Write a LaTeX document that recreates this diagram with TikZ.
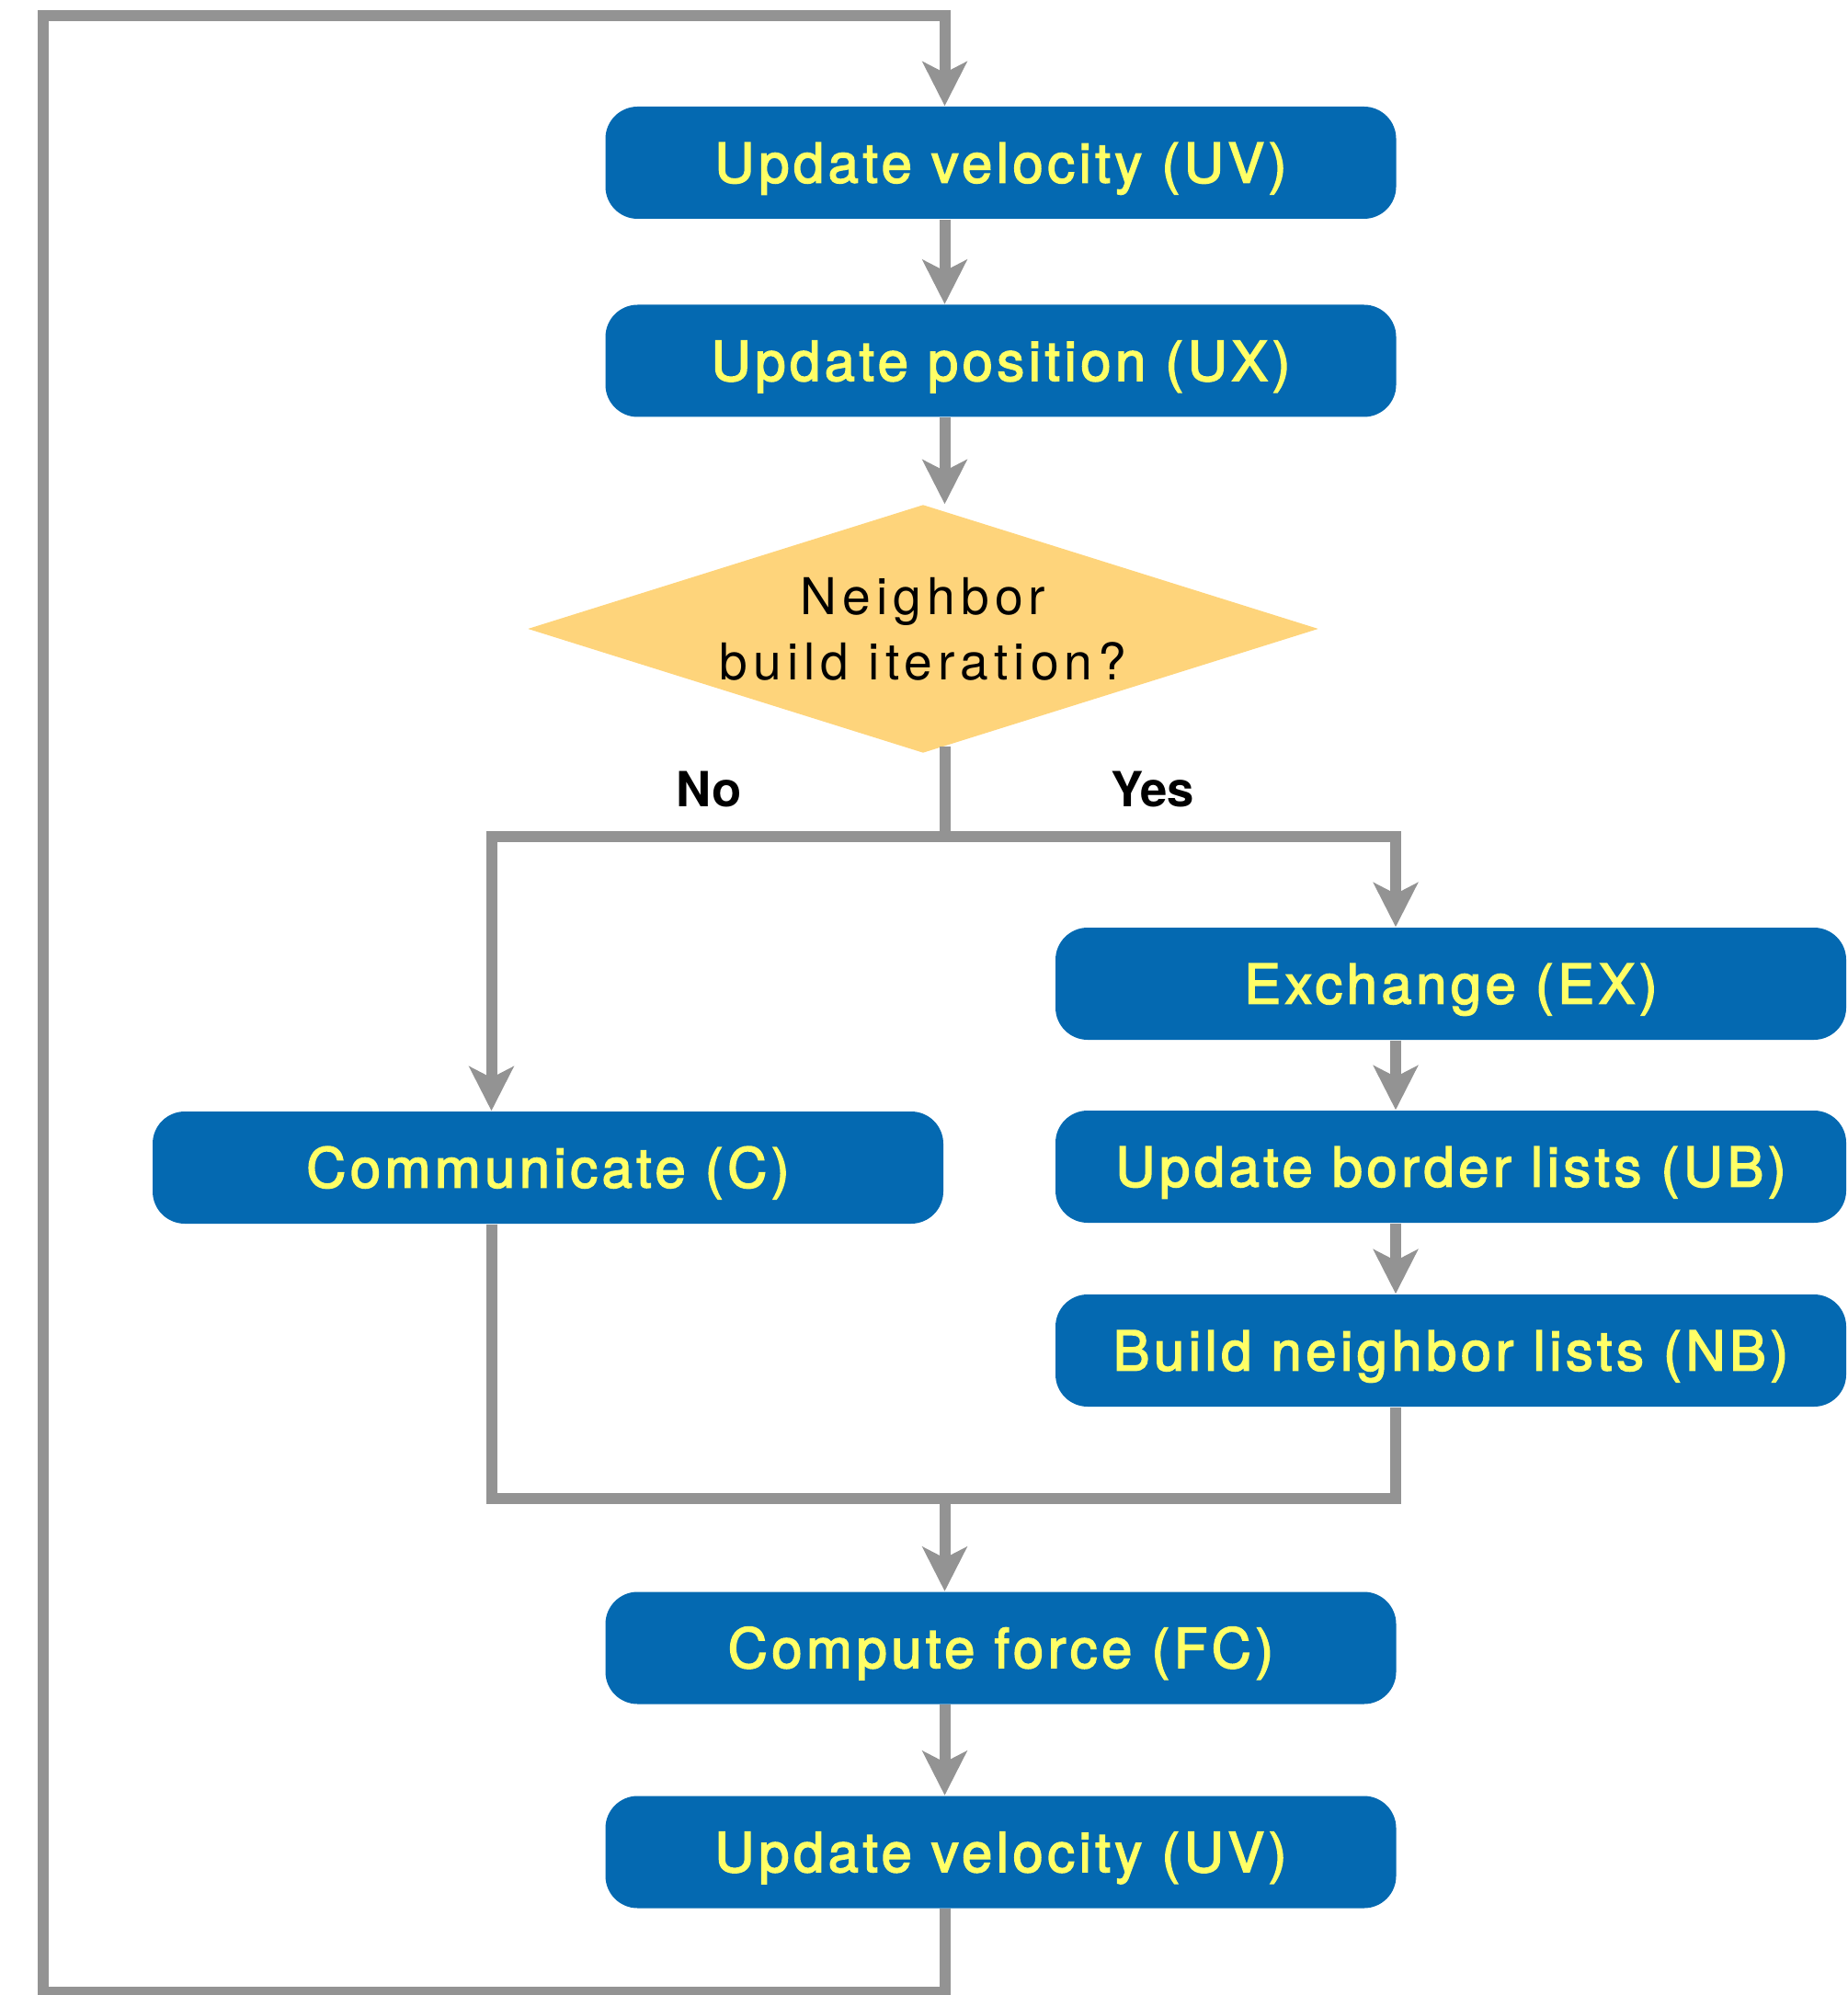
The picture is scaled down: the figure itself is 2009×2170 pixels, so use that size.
\documentclass[tikz,border=0pt]{standalone}
\usepackage{fontspec}
\setmainfont{TeX Gyre Heros}
\newfontfamily\boxfont[LetterSpace=7.5,FakeBold=2.5]{TeX Gyre Heros}
\newfontfamily\questionfont[LetterSpace=11]{TeX Gyre Heros}
\usetikzlibrary{arrows.meta,shapes.geometric}
\definecolor{stepblue}{HTML}{0469B1}
\definecolor{stepyellow}{HTML}{FFFF66}
\definecolor{decisionfill}{HTML}{FED47B}
\definecolor{linegray}{HTML}{939393}
\begin{document}
\begin{tikzpicture}[x=0.1mm,y=-0.1mm,
  flow/.style={line width=1.2mm, draw=linegray},
  arr/.style={flow, -{Stealth[length=4.8mm,width=4.8mm,inset=1.2mm]}},
  stepbox/.style={fill=stepblue, rounded corners=3.5mm, minimum width=86mm,
    minimum height=12.2mm, inner sep=0pt, text=stepyellow,
    text height=12.3pt, text depth=0pt,
    font=\boxfont\fontsize{17}{19}\selectfont},
  decision/.style={diamond, aspect=3.185, fill=decisionfill, minimum width=86mm,
    minimum height=27mm, inner sep=0pt, align=center,
    font=\questionfont\fontsize{15.7}{20.1}\selectfont},
  branchlabel/.style={font=\bfseries\fontsize{15}{18}\selectfont, inner sep=0pt}
]
\useasboundingbox (0,0) rectangle (2009,2170);
\clip (0,0) rectangle (2009,2170);

% guide coordinates for the connector columns
\coordinate (spine) at (1027.5,0);
\coordinate (lj) at (534.5,910);
\coordinate (rj) at (1518,910);
\coordinate (split) at (1027.5,910);
\coordinate (merge) at (1027.5,1630);
\coordinate (loopbl) at (47,2167);
\coordinate (looptl) at (47,17.5);

% steps
\node[stepbox] (UV1) at (1088.5,177) {Update velocity (UV)};
\node[stepbox] (UX) at (1088.5,392.5) {Update position (UX)};
\node[decision] (D) at (1004,684) {Neighbor\\build iteration?};
\node[stepbox] (EX) at (1578,1070) {Exchange (EX)};
\node[stepbox] (UB) at (1578,1269) {Update border lists (UB)};
\node[stepbox] (NB) at (1578,1469) {Build neighbor lists (NB)};
\node[stepbox] (C) at (596,1270) {Communicate (C)};
\node[stepbox] (FC) at (1088.5,1792.5) {Compute force (FC)};
\node[stepbox] (UV2) at (1088.5,2014.5) {Update velocity (UV)};

% branch labels
\node[branchlabel] (no) at (771,859) {No};
\node[branchlabel] (yes) at (1254,859) {Yes};

% connectors
\draw[arr] (UV1.south -| spine) -- (UX.north -| spine);
\draw[arr] (UX.south -| spine) -- (D.north -| spine);
\draw[flow] ([yshift=0.8mm]D.south -| spine) -- (split);
\draw[arr] (split) -- (lj) -- (lj |- C.north);
\draw[arr] (split) -- (rj) -- (rj |- EX.north);
\draw[arr] (EX.south -| rj) -- (UB.north -| rj);
\draw[arr] (UB.south -| rj) -- (NB.north -| rj);
\draw[flow] (C.south -| lj) -- (lj |- merge) -- (rj |- merge) -- (NB.south -| rj);
\draw[arr] (merge) -- (FC.north -| spine);
\draw[arr] (FC.south -| spine) -- (UV2.north -| spine);
\draw[arr] (UV2.south -| spine) -- (spine |- loopbl) -- (loopbl) -- (looptl)
  -- (spine |- looptl) -- (UV1.north -| spine);
\end{tikzpicture}
\end{document}
